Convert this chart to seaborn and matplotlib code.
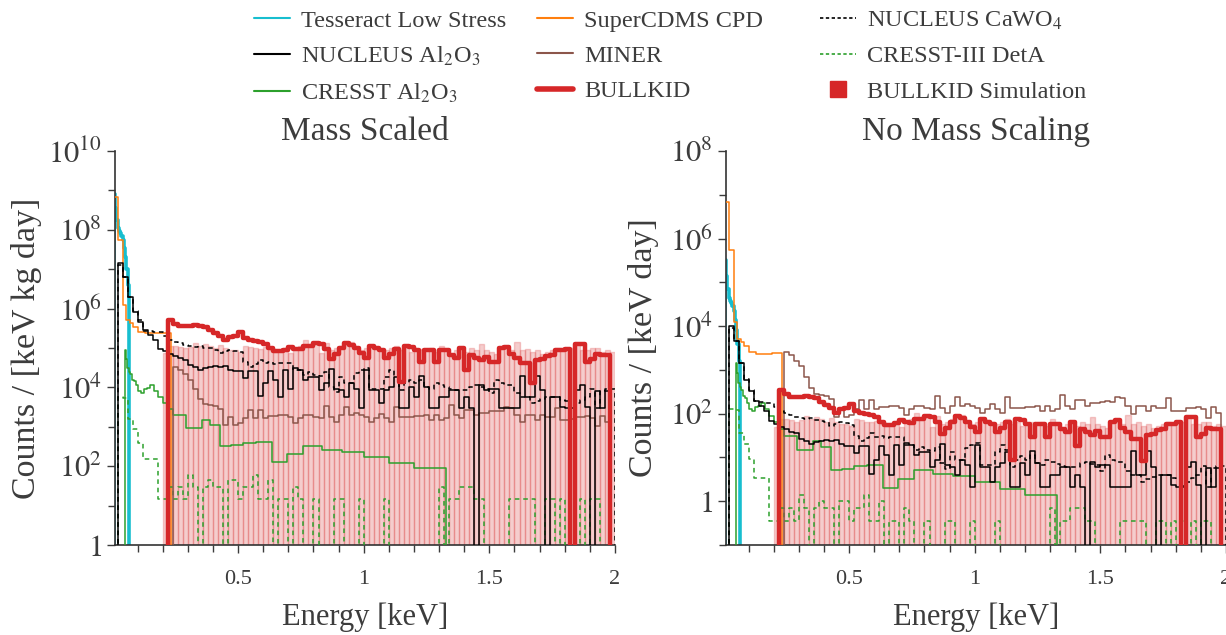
import numpy as np
import pandas as pd
import matplotlib
matplotlib.use('Agg')
import matplotlib.pyplot as plt
from matplotlib.lines import Line2D
from matplotlib.ticker import FixedLocator, FixedFormatter, NullFormatter
import seaborn as sns

NO = np.nan  # empty bin

# all rates as log10(counts / [keV kg day]); bins of 0.02 keV unless edges are given
tesseract_start = 0.005
tesseract_width = 0.005
tesseract = [8.9, 8.55, 8.25, 8.05, 7.98, 7.92, 7.85, 7.75, 7.55, 7.3, 7.0, 6.6]

supercdms_edges = [0.0, 0.021, 0.041, 0.055, 0.068, 0.081, 0.101, 0.128, 0.155, 0.195, 0.232]
supercdms = [8.84, 7.74, 6.09, 5.71, 5.63, 5.54, 5.41, 5.37, 5.37, 5.38]

nucleus_cawo4_start = 0.02
nucleus_cawo4 = [
    7.10, 6.80, 6.30, 5.95, 5.70, 5.43, 5.42, 5.40, 5.40, 5.30,
    5.20, 5.16, 5.13, 5.08, 5.05, 5.03, 5.05, 5.00, 4.99, 4.95,
    4.87, 4.92, 4.95, 4.93, 4.90, 4.65, 4.53, 4.60, 4.70, 4.62,
    4.65, 4.60, 4.62, 4.62, 4.62, 4.44, 4.44, 4.31, 4.40, 4.31,
    4.30, 4.40, 4.02, 3.89, 4.27, 4.10, 4.10, 4.36, 4.44, 4.48,
    3.97, 3.97, 3.97, 4.27, 4.44, 4.31, 3.93, 4.10, 4.18, 4.10,
    4.20, 4.02, 3.97, 4.10, 4.05, 4.00, 3.95, 3.93, 3.93, 3.93,
    4.02, 4.05, 4.00, 3.97, 3.85, 4.20, 4.10, 4.05, 4.05, 3.85,
    3.76, 3.76, 3.60, 3.65, 3.70, 3.76, 3.76, 3.76, 3.68, 3.65,
    3.50, 3.60, 3.68, 3.76, 3.95, 3.47, 3.90, 3.95, 3.95]

nucleus_al2o3_start = 0.02
nucleus_al2o3 = [
    7.15, 6.81, 6.30, 5.92, 5.67, 5.45, 5.33, 5.20, 4.98, 4.92,
    4.85, 4.80, 4.74, 4.70, 4.57, 4.52, 4.45, 4.50, 4.53, 4.55,
    4.53, 4.55, 4.45, 4.42, 4.42, 4.25, 4.42, 4.42, 3.78, 4.10,
    4.42, 4.20, 3.76, 4.44, 3.97, 4.48, 4.44, 4.20, 4.27, 4.27,
    3.93, 4.10, 4.46, 3.97, 3.93, 3.76, 4.10, 3.97, 3.47, 4.44,
    3.93, 3.93, 3.60, 3.93, 4.02, 4.27, 3.47, 3.47, 4.02, 3.76,
    4.29, 4.02, 3.47, 3.47, 3.76, 3.76, 3.93, 3.93, 3.47, 3.76,
    3.47, NO, 4.05, 3.93, 3.97, 3.97, 3.47, 3.47, 3.47, 3.47,
    4.29, 3.76, 3.76, 4.29, 3.93, NO, 3.76, 3.76, 3.51, 3.47,
    3.47, 3.93, 4.05, 3.51, NO, 3.90, 3.47, 3.90]

miner_start = 0.24
miner = [
    4.53, 4.45, 4.33, 4.20, 3.95, 3.70, 3.57, 3.55, 3.52, 3.45,
    3.05, 3.26, 3.05, 3.09, 3.22, 3.43, 3.22, 3.43, 3.22, 3.28,
    3.28, 3.30, 3.30, 3.26, 3.09, 3.22, 3.30, 3.30, 3.26, 3.22,
    3.53, 3.26, 3.13, 3.30, 3.49, 3.30, 3.35, 3.30, 3.26, 3.13,
    3.22, 3.33, 3.22, 3.13, 3.49, 3.24, 3.26, 3.26, 3.28, 3.28,
    3.30, 3.17, 3.30, 3.17, 3.22, 3.55, 3.30, 3.22, 3.43, 3.43,
    3.30, 3.36, 3.36, 3.39, 3.41, 3.39, 3.51, 3.47, 3.30, 3.11,
    3.30, 3.30, 3.17, 3.30, 3.26, 3.26, 3.47, 3.17, 3.17, 3.19,
    3.24, 3.24, 3.28, 3.22, 3.01, 3.28, 3.13]

cresst3_start = 0.02
cresst3 = [
    3.75, 3.72, 3.20, 2.95, 2.60, 2.18, 2.18, 2.18, 1.18, 1.18,
    1.48, 1.18, 1.48, 1.18, 1.78, 1.48, NO, 1.48, 1.65, 1.48,
    1.48, NO, 1.65, 1.65, 1.18, 1.48, 1.48, 1.78, 1.18, 1.18,
    1.65, NO, 1.18, 1.18, NO, 1.48, 1.18, NO, NO, 1.18,
    NO, NO, NO, 1.18, 1.18, NO, NO, NO, 1.18, NO,
    NO, NO, NO, 1.18, NO, NO, NO, NO, NO, NO,
    NO, NO, NO, NO, 1.48, NO, 1.18, 1.18, 1.48, 1.48,
    1.48, 1.18, 1.18, NO, NO, NO, NO, NO, 1.18, 1.18,
    1.18, 1.18, 1.18, NO, NO, 1.18, 1.18, NO, 1.18, NO,
    1.18, NO, 1.18, NO, 1.18, 1.18, NO, NO]

cresst_al2o3_edges = [0.048, 0.053, 0.058, 0.064, 0.070, 0.077, 0.085, 0.093, 0.103, 0.113,
                      0.124, 0.137, 0.150, 0.165, 0.182, 0.200, 0.220, 0.242, 0.266, 0.293,
                      0.322, 0.355, 0.390, 0.429, 0.472, 0.520, 0.573, 0.633, 0.693, 0.760,
                      0.833, 0.913, 1.000, 1.100, 1.200, 1.327]
cresst_al2o3 = [4.95, 4.72, 4.50, 4.40, 4.33, 4.20, 4.15, 4.05, 3.90, 3.87,
                3.96, 3.98, 4.05, 3.90, 3.75, 3.60, 3.45, 3.30, 3.30, 2.96,
                2.96, 3.17, 3.05, 2.52, 2.54, 2.60, 2.62, 2.11, 2.30, 2.51,
                2.42, 2.37, 2.24, 2.07, 1.95]

bullkid_start = 0.22
bullkid = [
    5.72, 5.62, 5.57, 5.56, 5.57, 5.58, 5.57, 5.54, 5.45, 5.38,
    5.30, 5.20, 5.28, 5.30, 5.41, 5.25, 5.20, 5.18, 5.16, 5.10,
    4.99, 4.92, 4.93, 4.96, 5.03, 4.98, 4.97, 5.06, 5.06, 5.13,
    5.10, 4.98, 4.72, 4.85, 5.00, 5.12, 5.08, 5.00, 4.88, 4.75,
    5.05, 5.00, 4.95, 4.75, 4.85, 4.98, 4.13, 5.05, 5.03, 4.95,
    4.65, 4.95, 4.95, 4.65, 4.95, 4.95, 4.82, 4.75, 5.00, 4.45,
    4.82, 4.75, 4.70, 4.78, 4.65, 4.65, 5.00, 5.03, 4.85, 4.75,
    4.61, 4.61, 4.10, 4.70, 4.72, 4.80, 4.82, 4.95, 4.95, 4.98,
    NO, 5.10, 5.10, 4.65, 4.72, 4.85, 4.83, 4.82]

bullkid_sim_start = 0.20
bullkid_sim = [
    4.87, 5.05, 5.05, 5.03, 5.00, 5.03, 5.12, 5.05, 5.10, 5.05,
    5.00, 5.08, 5.00, 4.95, 4.95, 4.90, 5.05, 5.03, 5.00, 4.98,
    5.02, 4.95, 4.90, 4.93, 5.00, 4.88, 5.00, 5.05, 5.20, 5.05,
    5.10, 4.88, 5.12, 4.95, 5.00, 5.05, 5.08, 5.15, 5.00, 4.95,
    5.00, 5.05, 5.03, 4.98, 4.95, 5.00, 5.05, 4.95, 5.00, 4.90,
    4.95, 4.98, 4.95, 5.00, 4.90, 5.05, 4.95, 4.82, 4.95, 5.00,
    4.90, 5.00, 4.95, 5.10, 4.95, 4.90, 4.85, 5.00, 5.00, 4.95,
    5.16, 4.95, 4.98, 4.90, 4.95, 4.85, 4.90, 4.95, 5.00, 4.95,
    5.00, 5.00, 5.10, 4.95, 4.95, 5.00, 5.00, 4.90, 4.95, 4.90]

# detector masses, log10(kg), used for the unscaled panel
mass_tesseract = -3.4
mass_supercdms = -2.0
mass_nucleus_cawo4 = -3.15
mass_nucleus_al2o3 = -3.15
mass_miner = -1.12
mass_cresst3 = -1.64
mass_cresst_al2o3 = -1.8
mass_bullkid = -3.18

CYAN = '#17becf'
ORANGE = '#ff7f0e'
BROWN = '#8c564b'
GREEN = '#2ca02c'
RED = '#d62728'
TEXT = '#3c3c3c'

sns.set_theme(style='ticks')
plt.rcParams['font.family'] = ['Liberation Serif', 'DejaVu Serif']
plt.rcParams['mathtext.fontset'] = 'stix'
plt.rcParams['text.color'] = TEXT
plt.rcParams['axes.labelcolor'] = TEXT
plt.rcParams['xtick.color'] = TEXT
plt.rcParams['ytick.color'] = TEXT
plt.rcParams['axes.edgecolor'] = '#333333'


def grid(start, n, width=0.02):
    return np.round(start + width * np.arange(n + 1), 4)


def spectrum(ax, edges, logvals, shift, bars=False, **kw):
    edges = np.asarray(edges, float)
    rate = np.nan_to_num(10 ** (np.asarray(logvals, float) + shift), nan=0.0)
    # empty bins at both ends so the outline closes down to the axis
    edges = np.concatenate([[edges[0] - (edges[1] - edges[0])], edges,
                            [edges[-1] + (edges[-1] - edges[-2])]])
    rate = np.concatenate([[0.0], rate, [0.0]])
    df = pd.DataFrame({'energy': (edges[:-1] + edges[1:]) / 2, 'rate': rate})
    if bars:
        sns.histplot(data=df, x='energy', weights='rate', bins=edges.tolist(),
                     element='bars', fill=True, ax=ax, **kw)
    else:
        sns.histplot(data=df, x='energy', weights='rate', bins=edges.tolist(),
                     element='step', fill=False, ax=ax, **kw)


def draw_panel(ax, scaled):
    ax.set_yscale('log')
    s = (lambda m: 0.0) if scaled else (lambda m: m)
    spectrum(ax, grid(bullkid_sim_start, len(bullkid_sim)), bullkid_sim, s(mass_bullkid),
             bars=True, color=RED, alpha=0.23, edgecolor=(0.84, 0.15, 0.16, 0.22),
             linewidth=1.0, zorder=1)
    spectrum(ax, grid(tesseract_start, len(tesseract), tesseract_width), tesseract,
             s(mass_tesseract), color=CYAN, linewidth=2.6, zorder=2)
    spectrum(ax, supercdms_edges, supercdms, s(mass_supercdms), color=ORANGE,
             linewidth=1.1, zorder=3)
    spectrum(ax, grid(cresst3_start, len(cresst3)), cresst3, s(mass_cresst3), color=GREEN,
             linewidth=1.1, linestyle=(0, (3, 2.5)), zorder=3)
    spectrum(ax, cresst_al2o3_edges, cresst_al2o3, s(mass_cresst_al2o3), color=GREEN,
             linewidth=1.1, zorder=3)
    spectrum(ax, grid(miner_start, len(miner)), miner, s(mass_miner), color=BROWN,
             linewidth=1.1, zorder=3)
    spectrum(ax, grid(nucleus_cawo4_start, len(nucleus_cawo4)), nucleus_cawo4,
             s(mass_nucleus_cawo4), color='black', linewidth=1.1,
             linestyle=(0, (3, 2.5)), zorder=4)
    spectrum(ax, grid(nucleus_al2o3_start, len(nucleus_al2o3)), nucleus_al2o3,
             s(mass_nucleus_al2o3), color='black', linewidth=1.1, zorder=4)
    spectrum(ax, grid(bullkid_start, len(bullkid)), bullkid, s(mass_bullkid), color=RED,
             linewidth=3.2, zorder=5)

    ax.set_xlim(0.01, 2.0)
    ax.xaxis.set_major_locator(FixedLocator([0.5, 1.0, 1.5, 2.0]))
    ax.xaxis.set_major_formatter(FixedFormatter(['0.5', '1', '1.5', '2']))
    ax.xaxis.set_minor_locator(FixedLocator(np.round(np.arange(0.1, 2.0, 0.1), 2)))
    if scaled:
        ax.set_ylim(1, 1e10)
        majors = [0, 2, 4, 6, 8, 10]
        minors = [1, 3, 5, 7, 9]
        ax.set_ylabel('Counts / [keV kg day]', fontsize=24.5, labelpad=4)
        ax.set_title('Mass Scaled', fontsize=24, pad=8, color=TEXT)
    else:
        ax.set_ylim(0.1, 1e8)
        majors = [0, 2, 4, 6, 8]
        minors = [-1, 1, 3, 5, 7]
        ax.set_ylabel('Counts / [keV day]', fontsize=24.5, labelpad=8)
        ax.set_title('No Mass Scaling', fontsize=24, pad=8, color=TEXT)
    ax.yaxis.set_major_locator(FixedLocator([10.0 ** p for p in majors]))
    ax.yaxis.set_major_formatter(FixedFormatter(
        ['$1$' if p == 0 else '$10^{%d}$' % p for p in majors]))
    ax.yaxis.set_minor_locator(FixedLocator([10.0 ** p for p in minors]))
    ax.yaxis.set_minor_formatter(NullFormatter())
    ax.set_xlabel('Energy [keV]', fontsize=22, labelpad=10)
    ax.tick_params(axis='x', which='both', labelsize=16, direction='out', pad=12)
    ax.tick_params(axis='y', which='both', labelsize=22, direction='out')
    ax.tick_params(which='major', length=6, width=1)
    ax.tick_params(which='minor', length=5, width=1)
    for side in ['top', 'right']:
        ax.spines[side].set_visible(False)
    for side in ['left', 'bottom']:
        ax.spines[side].set_linewidth(1.2)


fig = plt.figure(figsize=(12.26, 6.35), dpi=100)
ax_left = fig.add_axes([115 / 1226, 1 - 545 / 635, 500 / 1226, 394 / 635])
ax_right = fig.add_axes([726 / 1226, 1 - 545 / 635, 500 / 1226, 394 / 635])
draw_panel(ax_left, True)
draw_panel(ax_right, False)

columns = [
    [('Tesseract Low Stress', dict(color=CYAN, lw=1.5)),
     ('NUCLEUS Al$_2$O$_3$', dict(color='black', lw=1.5)),
     ('CRESST Al$_2$O$_3$', dict(color=GREEN, lw=1.5))],
    [('SuperCDMS CPD', dict(color=ORANGE, lw=1.5)),
     ('MINER', dict(color=BROWN, lw=1.5)),
     ('BULLKID', dict(color=RED, lw=4))],
    [('NUCLEUS CaWO$_4$', dict(color='black', lw=1.2, ls=(0, (2, 1.5)))),
     ('CRESST-III DetA', dict(color=GREEN, lw=1.2, ls=(0, (2, 1.5)))),
     ('BULLKID Simulation', dict(color=RED, ls='none', marker='s', markersize=12))],
]
for x0, col in zip([254 / 1226, 537 / 1226, 820 / 1226], columns):
    handles = [Line2D([], [], **style) for _, style in col]
    labels = [name for name, _ in col]
    fig.legend(handles, labels, loc='upper left', bbox_to_anchor=(x0, 0.985),
               frameon=False, fontsize=17.5, handlelength=1.5, handletextpad=0.45,
               labelspacing=0.55, borderpad=0, borderaxespad=0)

fig.savefig('out.png', dpi=100)
